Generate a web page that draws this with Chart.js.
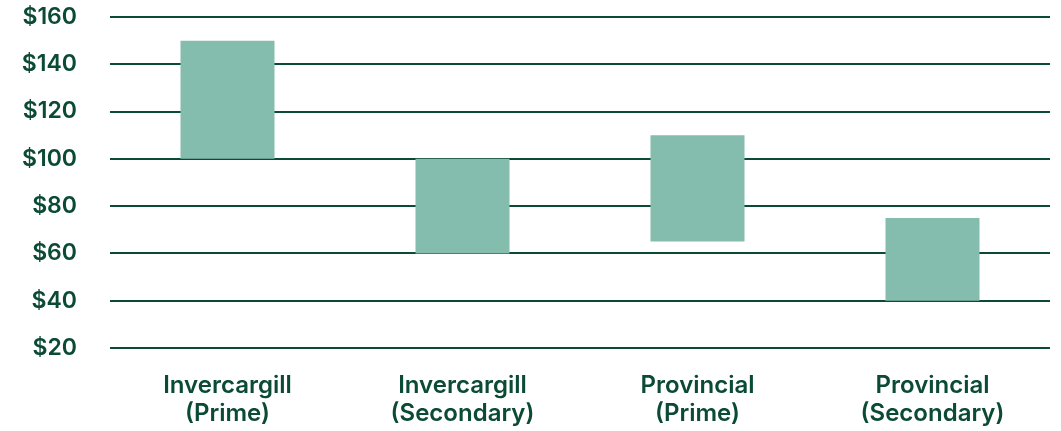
<!DOCTYPE html>
<html>
<head>
<meta charset="utf-8">
<script src="https://cdn.jsdelivr.net/npm/chart.js@4"></script>
<style>
    body { margin: 0; background: #fff; }
    #wrap { width: 1061px; height: 431px; position: relative; }
</style>
</head>
<body>
<div id="wrap"><canvas id="rangeChart"></canvas></div>
<script>
    // Categories and value ranges (low, high) in $
    const categories = [['Invercargill', '(Prime)'], ['Invercargill', '(Secondary)'], ['Provincial', '(Prime)'], ['Provincial', '(Secondary)']];
    const lowValues = [100, 60, 65, 40];
    const highValues = [150, 100, 110, 75];
    const yTicks = [20, 40, 60, 80, 100, 120, 140, 160];

    const darkGreen = '#0b4a35';
    const barColor = '#84bcad';

    const ranges = lowValues.map(function(lo, i) { return [lo, highValues[i]]; });

    new Chart(document.getElementById('rangeChart'), {
        type: 'bar',
        data: {
            labels: categories,
            datasets: [{
                data: ranges,
                backgroundColor: barColor,
                borderWidth: 0,
                borderSkipped: false,
                categoryPercentage: 1.0,
                barPercentage: 0.4
            }]
        },
        options: {
            responsive: true,
            maintainAspectRatio: false,
            animation: false,
            layout: { padding: { top: 17, right: 11, left: 0, bottom: 0 } },
            plugins: {
                legend: { display: false },
                tooltip: { enabled: false }
            },
            scales: {
                x: {
                    grid: { display: false },
                    border: { display: false },
                    afterFit: function(axis) { axis.height = 83; },
                    ticks: {
                        color: darkGreen,
                        font: { family: 'Inter', size: 24, weight: '600', lineHeight: 1.2 },
                        padding: 15,
                        maxRotation: 0
                    }
                },
                y: {
                    min: yTicks[0],
                    max: yTicks[yTicks.length - 1],
                    afterBuildTicks: function(axis) {
                        axis.ticks = yTicks.map(function(v) { return { value: v }; });
                    },
                    // keep the label gap out of the top/bottom padding
                    afterFit: function(axis) {
                        axis.width = 110;
                        axis.paddingTop = 0;
                        axis.paddingBottom = 0;
                    },
                    grid: { color: darkGreen, lineWidth: 2, drawTicks: false },
                    border: { display: false },
                    ticks: {
                        color: darkGreen,
                        font: { family: 'Inter', size: 23, weight: '600' },
                        padding: 33,
                        callback: function(v) { return '$' + v; }
                    }
                }
            }
        }
    });
</script>
</body>
</html>
